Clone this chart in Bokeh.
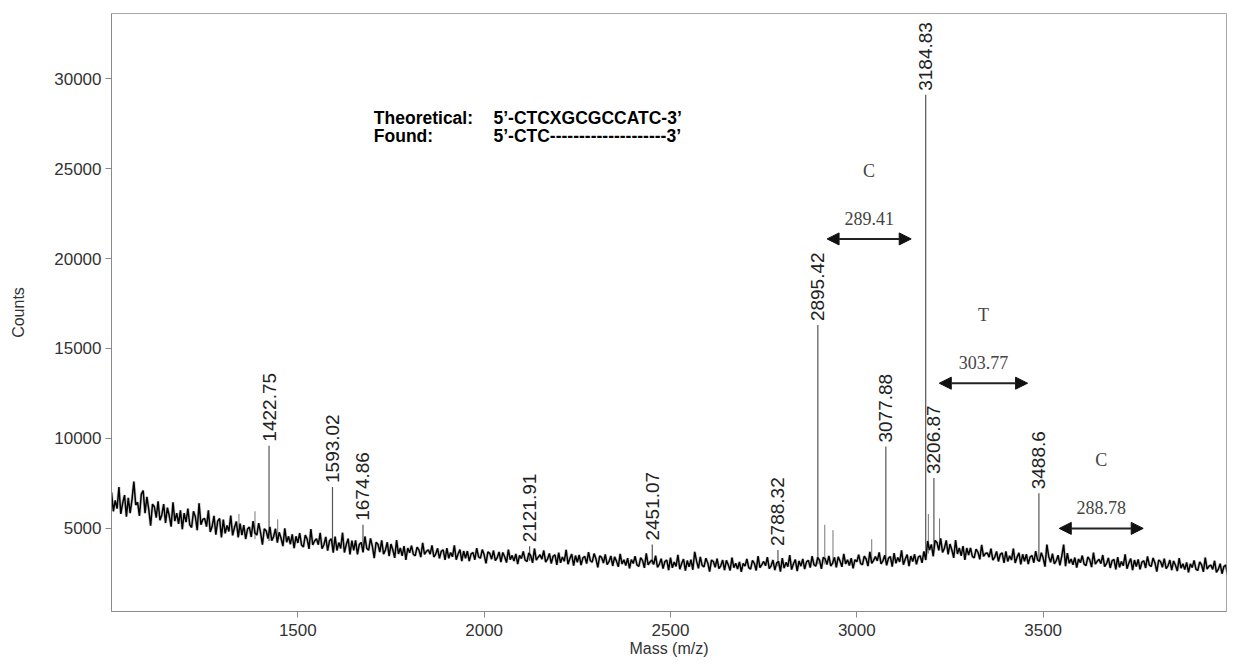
import numpy as np
from bokeh.plotting import figure
from bokeh.models import Range1d, FixedTicker, Label, Arrow, NormalHead
from bokeh.embed import file_html
from bokeh.resources import INLINE
from bokeh.core.properties import value

# ---- spectrum background trace: counts sampled every 5 m/z from 1000 ----
trace_start = 1000
trace_step = 5
trace_counts = [
    7000, 5950, 6550, 6100, 7300, 5800, 6400, 6850, 5650, 6700,   # 1000
    5850, 6600, 7600, 6300, 6450, 5700, 6900, 7100, 5850, 6750,   # 1050
    6050, 5150, 6350, 6200, 5600, 6500, 5450, 5750, 6350, 5300,   # 1100
    6150, 5700, 5100, 6450, 5400, 5850, 5250, 6000, 4950, 5850,   # 1150
    5350, 6100, 5200, 5050, 5950, 5650, 4900, 6400, 5200, 5500,   # 1200
    5550, 5100, 6000, 4800, 5100, 5700, 4650, 5400, 5550, 4500,   # 1250
    5490, 4720, 5160, 4830, 5710, 4610, 5050, 5380, 4500, 5270,   # 1300
    4630, 5180, 4410, 4960, 5070, 4520, 5400, 4740, 4630, 5290,   # 1350
    4760, 4100, 4980, 4870, 4430, 5090, 4320, 4540, 4980, 4210,   # 1400
    4780, 4450, 4010, 5000, 4230, 4560, 4120, 4670, 3900, 4560,   # 1450
    4190, 4740, 4080, 3970, 4630, 4410, 3860, 4960, 4080, 4300,   # 1500
    4420, 4090, 4750, 3870, 4090, 4530, 3760, 4310, 4420, 3650,   # 1550
    4540, 3770, 4210, 3880, 4760, 3660, 4100, 4430, 3550, 4320,   # 1600
    3780, 4330, 3560, 4110, 4220, 3670, 4550, 3890, 3780, 4440,   # 1650
    4010, 3350, 4230, 4120, 3680, 4340, 3570, 3790, 4230, 3460,   # 1700
    4130, 3800, 3360, 4350, 3580, 3910, 3470, 4020, 3250, 3910,   # 1750
    3640, 4040, 3560, 3480, 3960, 3800, 3400, 4200, 3560, 3720,   # 1800
    3810, 3570, 4050, 3410, 3570, 3890, 3330, 3730, 3810, 3250,   # 1850
    3900, 3340, 3660, 3420, 4060, 3260, 3580, 3820, 3180, 3740,   # 1900
    3340, 3740, 3180, 3580, 3660, 3260, 3900, 3420, 3340, 3820,   # 1950
    3530, 3050, 3690, 3610, 3290, 3770, 3210, 3370, 3690, 3130,   # 2000
    3660, 3420, 3100, 3820, 3260, 3500, 3180, 3580, 3020, 3500,   # 2050
    3320, 3720, 3240, 3160, 3640, 3480, 3080, 3880, 3240, 3400,   # 2100
    3530, 3290, 3770, 3130, 3290, 3610, 3050, 3450, 3530, 2970,   # 2150
    3650, 3090, 3410, 3170, 3810, 3010, 3330, 3570, 2930, 3490,   # 2200
    3120, 3520, 2960, 3360, 3440, 3040, 3680, 3200, 3120, 3600,   # 2250
    3310, 2830, 3470, 3390, 3070, 3550, 2990, 3150, 3470, 2910,   # 2300
    3420, 3180, 2860, 3580, 3020, 3260, 2940, 3340, 2780, 3260,   # 2350
    3050, 3450, 2970, 2890, 3370, 3210, 2810, 3610, 2970, 3130,   # 2400
    3240, 3000, 3480, 2840, 3000, 3320, 2760, 3160, 3240, 2680,   # 2450
    3370, 2810, 3130, 2890, 3530, 2730, 3050, 3290, 2650, 3210,   # 2500
    2860, 3260, 2700, 3700, 3180, 2780, 3420, 2940, 2860, 3340,   # 2550
    3080, 2600, 3240, 3160, 2840, 3320, 2760, 2920, 3240, 2680,   # 2600
    3220, 2980, 2660, 3380, 2820, 3060, 2740, 3140, 2580, 3060,   # 2650
    2900, 3300, 2820, 2740, 3220, 3060, 2660, 3460, 2820, 2980,   # 2700
    3160, 2920, 3400, 2760, 2920, 3240, 2680, 3080, 3160, 2600,   # 2750
    3350, 2790, 3110, 2870, 3510, 2710, 3030, 3270, 2630, 3190,   # 2800
    2900, 3300, 2740, 3140, 3220, 2820, 3460, 2980, 2900, 3380,   # 2850
    3230, 2750, 3390, 3310, 2990, 3470, 2910, 3070, 3390, 2830,   # 2900
    3420, 3180, 2860, 3580, 3020, 3260, 2940, 3340, 2780, 3260,   # 2950
    3140, 3540, 3060, 2980, 3460, 3300, 2900, 3700, 3060, 3220,   # 3000
    3430, 3190, 3670, 3030, 3190, 3510, 2950, 3350, 3430, 2870,   # 3050
    3620, 3060, 3380, 3140, 3780, 2980, 3300, 3540, 2900, 3460,   # 3100
    3160, 3560, 3000, 3400, 3480, 3080, 3720, 3240, 4300, 3800,   # 3150
    4110, 3450, 4330, 4220, 3780, 4440, 3670, 3890, 4330, 3560,   # 3200
    4130, 3800, 3360, 4350, 3580, 3910, 3470, 4020, 3250, 3910,   # 3250
    3520, 3920, 3440, 3360, 3840, 3680, 3280, 4080, 3440, 3600,   # 3300
    3640, 3400, 3880, 3240, 3400, 3720, 3160, 3560, 3640, 3080,   # 3350
    3720, 3160, 3480, 3240, 3880, 3080, 3400, 3640, 3000, 3560,   # 3400
    3170, 3570, 3010, 3410, 3490, 3090, 3730, 3250, 3170, 3650,   # 3450
    3350, 2870, 4100, 3430, 3110, 3590, 3030, 3190, 3510, 2950,   # 3500
    3460, 4100, 2900, 3620, 3060, 3300, 2980, 3380, 2820, 3300,   # 3550
    3090, 3490, 3010, 2930, 3410, 3250, 2850, 3650, 3010, 3170,   # 3600
    3280, 3040, 3520, 2880, 3040, 3360, 2800, 3200, 3280, 2720,   # 3650
    3400, 2840, 3160, 2920, 3560, 2760, 3080, 3320, 2680, 3240,   # 3700
    2880, 3280, 2720, 3120, 3200, 2800, 3440, 2960, 2880, 3360,   # 3750
    3080, 2600, 3240, 3160, 2840, 3320, 2760, 2920, 3240, 2680,   # 3800
    3190, 2950, 2630, 3350, 2790, 3030, 2710, 3110, 2550, 3030,   # 3850
    2820, 3220, 2740, 2660, 3140, 2980, 2580, 3380, 2740, 2900,   # 3900
    2960, 2720, 3200, 2560, 2720, 3040, 2480, 2880, 2960, 2400,   # 3950
]

# ---- labelled peaks ----
peak_mz = [1422.75, 1593.02, 1674.86, 2121.91, 2451.07, 2788.32,
           2895.42, 3077.88, 3184.83, 3206.87, 3488.6]
peak_counts = [9600, 7300, 5200, 4000, 4100, 3800,
               16300, 9550, 29100, 7800, 6950]
peak_base = [4300, 3900, 3700, 3200, 3000, 2900,
             3000, 3200, 3500, 3900, 3200]
peak_labels = ["1422.75", "1593.02", "1674.86", "2121.91", "2451.07", "2788.32",
               "2895.42", "3077.88", "3184.83", "3206.87", "3488.6"]

# ---- small unlabelled spikes ----
spike_mz = [1342, 1385, 1446, 2914, 2936, 3040, 3192, 3222]
spike_counts = [5800, 5950, 5500, 5200, 4900, 4400, 5800, 5550]
spike_base = [4600, 4400, 4200, 3000, 3000, 3100, 3600, 3900]

# ---- nucleotide mass differences ----
gap_bases = ["C", "T", "C"]
gap_start = [2895.42, 3184.83, 3488.6]
gap_width = [289.41, 303.77, 288.78]
gap_labels = ["289.41", "303.77", "288.78"]

x_ticks = [1500, 2000, 2500, 3000, 3500]
y_ticks = [5000, 10000, 15000, 20000, 25000, 30000]

mz = trace_start + trace_step * np.arange(len(trace_counts))

p = figure(width=1235, height=666, output_backend="svg", toolbar_location=None,
           x_range=Range1d(1000, 3992), y_range=Range1d(380, 33620),
           min_border_left=111, min_border_right=9,
           min_border_top=13, min_border_bottom=55)
p.background_fill_color = "white"
p.border_fill_color = "white"
p.grid.visible = False
p.outline_line_color = "#a8a8a8"
p.outline_line_width = 1

p.xaxis.ticker = FixedTicker(ticks=x_ticks)
p.yaxis.ticker = FixedTicker(ticks=y_ticks)
p.xaxis.axis_label = "Mass (m/z)"
p.yaxis.axis_label = "Counts"
for ax in (p.xaxis[0], p.yaxis[0]):
    ax.axis_line_color = "#8a8a8a"
    ax.major_tick_line_color = "#8a8a8a"
    ax.major_tick_out = 6
    ax.major_tick_in = 0
    ax.minor_tick_line_color = None
    ax.major_label_text_font = "Liberation Sans"
    ax.major_label_text_font_size = "17px"
    ax.major_label_text_color = "#333333"
    ax.axis_label_text_font = "Liberation Sans"
    ax.axis_label_text_font_size = "16px"
    ax.axis_label_text_font_style = "normal"
    ax.axis_label_text_color = "#333333"
p.xaxis.major_label_standoff = 6
p.xaxis.axis_label_standoff = 1
p.yaxis.major_label_standoff = 4
p.yaxis.axis_label_standoff = 24

# spikes and peaks as thin grey sticks
p.segment(x0=spike_mz, y0=spike_base, x1=spike_mz, y1=spike_counts,
          line_color="#777777", line_width=1)
p.segment(x0=peak_mz, y0=peak_base, x1=peak_mz, y1=peak_counts,
          line_color="#555555", line_width=1.2)

# noisy background trace: soft grey fringe under a dense black core
p.line(mz, trace_counts, line_color="#9a9a9a", line_width=3, line_alpha=0.5)
p.line(mz, trace_counts, line_color="black", line_width=1.5)

# peak mass labels, rotated, just above each peak
p.text(x=peak_mz, y=peak_counts, text=peak_labels, angle=np.pi / 2,
       text_align="left", text_baseline="middle", y_offset=-4,
       text_font=value("Liberation Sans"), text_font_size="19px",
       text_color="#222222")

# sequence annotation
seq_font = "Liberation Sans"
seq_size = "17.5px"
seq_rows = [("Theoretical:", "5\u2019-CTCXGCGCCATC-3\u2019", 27830),
            ("Found:", "5\u2019-CTC" + "-" * 20 + "3\u2019", 26830)]
for head, seq, yy in seq_rows:
    p.add_layout(Label(x=1704, y=yy, text=head, text_font=seq_font,
                       text_font_style="bold", text_font_size=seq_size,
                       text_baseline="middle", text_color="black"))
    p.add_layout(Label(x=2025, y=yy, text=seq, text_font=seq_font,
                       text_font_style="bold", text_font_size=seq_size,
                       text_baseline="middle", text_color="black"))

# mass-difference arrows with base letter and value
arrow_y = [21090, 13070, 5000]
shift = [-10, 0, 20]
for base, start, width, lab, ay, dx in zip(gap_bases, gap_start, gap_width,
                                            gap_labels, arrow_y, shift):
    x0 = start + 0.12 * width + dx
    x1 = start + 0.90 * width + dx
    xc = 0.5 * (x0 + x1)
    p.add_layout(Arrow(x_start=x0, y_start=ay, x_end=x1, y_end=ay,
                       line_color="#222222", line_width=2,
                       start=NormalHead(size=12, fill_color="#111111", line_color="#111111"),
                       end=NormalHead(size=12, fill_color="#111111", line_color="#111111")))
    p.add_layout(Label(x=xc, y=ay, y_offset=14, text=lab, text_font="Liberation Serif",
                       text_font_size="18px", text_align="center", text_baseline="bottom",
                       text_color="#444444"))
    p.add_layout(Label(x=xc, y=ay, y_offset=58, text=base, text_font="Liberation Serif",
                       text_font_size="18px", text_align="center", text_baseline="bottom",
                       text_color="#444444"))

open("out.html", "w").write(file_html(p, INLINE))
